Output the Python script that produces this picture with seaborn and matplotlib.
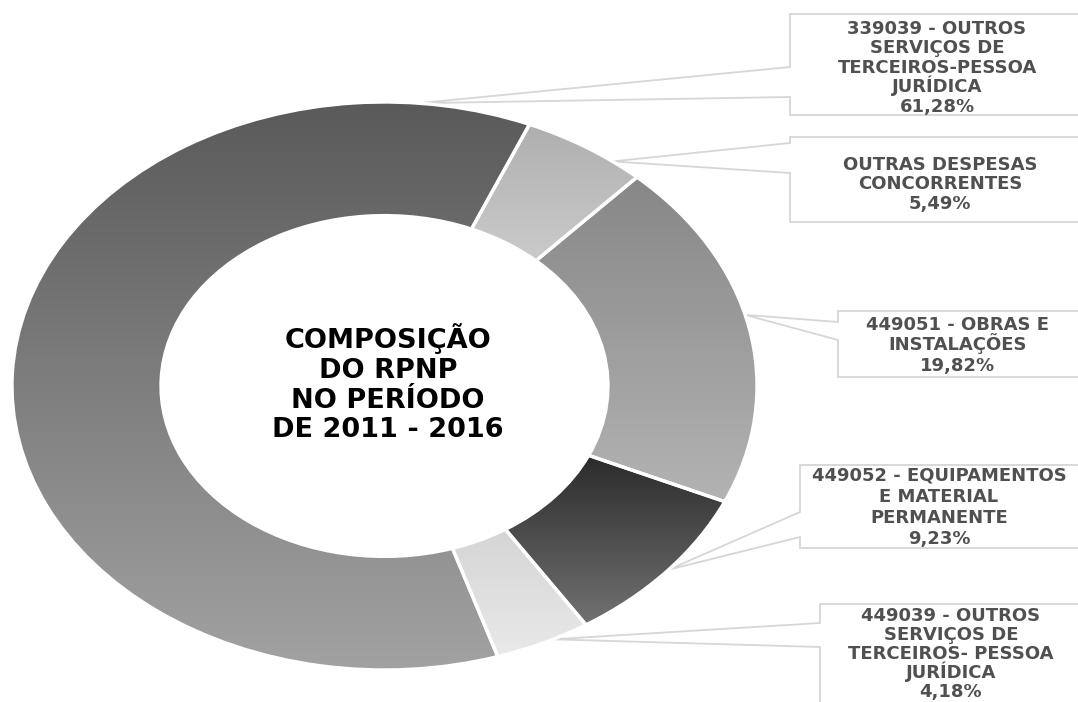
import numpy as np
import matplotlib
matplotlib.use('Agg')
import matplotlib.pyplot as plt
from matplotlib.patches import Polygon
from matplotlib.colors import LinearSegmentedColormap
import seaborn as sns

sns.set_theme(style='white')
plt.rcParams['font.family'] = ['DejaVu Sans']

# ---------------- data ----------------
labels = ['339039 - OUTROS\nSERVIÇOS DE\nTERCEIROS-PESSOA\nJURÍDICA',
          'OUTRAS DESPESAS\nCONCORRENTES',
          '449051 - OBRAS E\nINSTALAÇÕES',
          '449052 - EQUIPAMENTOS\nE MATERIAL\nPERMANENTE',
          '449039 - OUTROS\nSERVIÇOS DE\nTERCEIROS- PESSOA\nJURÍDICA']
shares = [61.28, 5.49, 19.82, 9.23, 4.18]
top_colors = ['#5a5a5a', '#afafaf', '#878787', '#2b2b2b', '#d5d5d5']
bottom_colors = ['#a2a2a2', '#cbcbcb', '#b3b3b3', '#727272', '#e9e9e9']
center_title = 'COMPOSIÇÃO\nDO RPNP\nNO PERÍODO\nDE 2011 - 2016'

# ---------------- layout (pixels) ----------------
W, H = 1078, 702
cx, cy, rx, ry = 384.5, 386, 372.5, 284
pad = 1.05
start = -72.3

# callout boxes: x0, y0, y1, pointer base y (top, bottom), anchor fraction along slice
boxes = [(790, 14, 115, 67, 97, 0.92),
         (790, 137, 222, 143, 173, 0.75),
         (838, 311, 377, 322, 340, 0.46),
         (800, 465, 548, 512, 537, 0.49),
         (820, 604, 720, 623, 647, 0.39)]
# text centre x, first line centre y, line step
text_pos = [(937, 27, 19.6), (940, 163, 19.5), (958, 323, 20.5),
            (939, 474, 21), (951, 614, 19.2)]

fig = plt.figure(figsize=(W / 100, H / 100), dpi=100)
fig.patch.set_facecolor('white')

bg = fig.add_axes([0, 0, 1, 1])
bg.set_xlim(0, W)
bg.set_ylim(H, 0)
bg.axis('off')

ax = fig.add_axes([(cx - rx * pad) / W, 1 - (cy + ry * pad) / H,
                   2 * rx * pad / W, 2 * ry * pad / H])
ax.patch.set_visible(False)

wedges, _ = ax.pie(shares, startangle=start, counterclock=False, radius=1,
                   colors=top_colors,
                   wedgeprops=dict(width=0.4, linewidth=0, edgecolor='none'))

# vertical gradient inside every slice
grad = np.linspace(0, 1, 256)[:, None]
for w, c0, c1 in zip(wedges, top_colors, bottom_colors):
    ext = w.get_path().get_extents()
    cmap = LinearSegmentedColormap.from_list('g', [c0, c1])
    im = ax.imshow(grad, cmap=cmap, extent=(ext.x0, ext.x1, ext.y0, ext.y1),
                   origin='upper', aspect='auto', interpolation='bicubic',
                   zorder=2)
    im.set_clip_path(w)

# white separators
ax.pie(shares, startangle=start, counterclock=False, radius=1,
       wedgeprops=dict(width=0.4, facecolor='none', edgecolor='white',
                       linewidth=2.4, zorder=3))

ax.set_aspect('auto')
ax.set_xlim(-pad, pad)
ax.set_ylim(-pad, pad)
ax.axis('off')

# centre title
cap_c = 19.5 * 100 / 72 * 0.729 / 2
for k, line in enumerate(center_title.split('\n')):
    bg.text(388, 338.5 + k * 29.6 + cap_c, line, ha='center', va='baseline',
            fontsize=19.5, fontweight='bold', color='black', zorder=10)

# callouts
fs = 13
cap_l = fs * 100 / 72 * 0.729 / 2
for w, lab, val, (x0, y0, y1, b0, b1, f), (tx, ty, step) in zip(
        wedges, labels, shares, boxes, text_pos):
    t = np.deg2rad(w.theta2 - f * (w.theta2 - w.theta1))
    apex = (cx + rx * np.cos(t), cy - ry * np.sin(t))
    x1 = W + 10
    poly = Polygon([(x0, y0), (x1, y0), (x1, y1), (x0, y1), (x0, b1), apex,
                    (x0, b0)], closed=True, facecolor='white',
                   edgecolor='#d6d6d6', linewidth=1.3, zorder=1)
    bg.add_patch(poly)
    lines = lab.split('\n') + [f'{val:.2f}'.replace('.', ',') + '%']
    for k, line in enumerate(lines):
        bg.text(tx, ty + k * step + cap_l, line, ha='center', va='baseline',
                fontsize=fs, fontweight='bold', color='#505050', zorder=5)

fig.savefig('out.png', dpi=100, facecolor='white')
